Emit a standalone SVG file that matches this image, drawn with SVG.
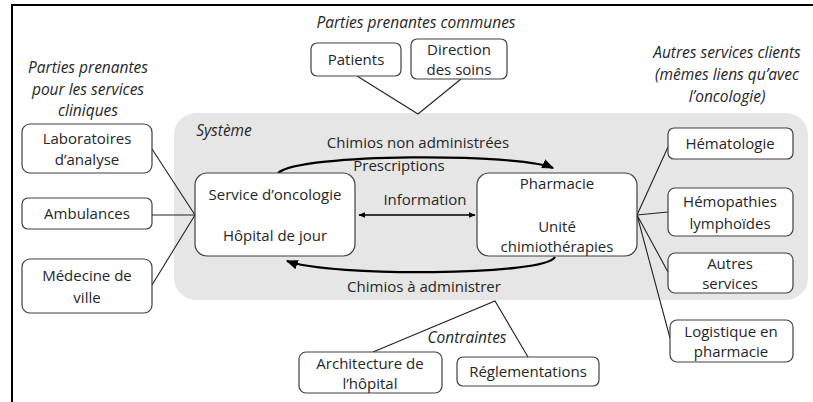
<svg xmlns="http://www.w3.org/2000/svg" width="813" height="402" viewBox="0 0 813 402">
<style>
text{font-family:"Open Sans","Liberation Sans",sans-serif;font-size:15px;fill:#262626;text-anchor:middle}
.it{font-style:italic;font-size:15.5px}
.box{fill:#fff;stroke:#404040;stroke-width:1.2}
.ln{fill:none;stroke:#222;stroke-width:1.1}
.ar{fill:none;stroke:#000;stroke-width:2.2}
</style>
<defs>
<marker id="ah2" viewBox="0 0 10 10" refX="9" refY="5" markerWidth="7" markerHeight="7" orient="auto-start-reverse" markerUnits="userSpaceOnUse"><path d="M0,1 L10,5 L0,9 z" fill="#000"/></marker>
<marker id="ah3" viewBox="0 0 10 10" refX="9" refY="5" markerWidth="12" markerHeight="12" orient="auto-start-reverse" markerUnits="userSpaceOnUse"><path d="M0,1 L10,5 L0,9 z" fill="#000"/></marker>
</defs>
<rect width="813" height="402" fill="#fff"/>
<path d="M12,402 V5 H813" fill="none" stroke="#000" stroke-width="2"/>
<g id="systeme">
<rect x="174" y="113" width="634" height="187" rx="22" fill="#e6e6e6"/>
<text class="it" x="224" y="136">Système</text>
</g>
<text class="it" x="416" y="28">Parties prenantes communes</text>
<text class="it" x="88" y="73">Parties prenantes</text>
<text class="it" x="88" y="95">pour les services</text>
<text class="it" x="88" y="116">cliniques</text>
<text class="it" x="727" y="58">Autres services clients</text>
<text class="it" x="727" y="80">(mêmes liens qu’avec</text>
<text class="it" x="727" y="102">l’oncologie)</text>
<g id="connectors">
<path class="ln" d="M357,76 L418,114 L461,79"/>
<path class="ln" d="M152,149 L195,215 M152,215 H195 M152,285 L195,215"/>
<path class="ln" d="M637,215 L668,147 M637,215 L668,212 M637,215 L668,272 M637,215 L670,338"/>
<path class="ln" d="M373,352 L495,301 L528,357"/>
<path class="ar" d="M278,173 C300,153 520,153 553,168" marker-end="url(#ah3)"/>
<path d="M359,215 H475" stroke="#000" stroke-width="1.6" fill="none" marker-start="url(#ah2)" marker-end="url(#ah2)"/>
<path class="ar" d="M555,257 C545,276 330,277 287,261" marker-end="url(#ah3)"/>
<text x="418" y="148">Chimios non administrées</text>
<text x="399" y="171">Prescriptions</text>
<text x="425" y="205">Information</text>
<text x="424" y="292">Chimios à administrer</text>
<text class="it" x="467" y="343">Contraintes</text>
</g>
<g id="oncologie">
<rect class="box" x="195" y="173" width="160" height="83" rx="12"/>
<text x="275" y="200">Service d’oncologie</text>
<text x="275" y="241">Hôpital de jour</text>
</g>
<g id="pharmacie">
<rect class="box" x="477" y="173" width="160" height="83" rx="12"/>
<text x="557" y="189">Pharmacie</text>
<text x="557" y="232">Unité</text>
<text x="557" y="252">chimiothérapies</text>
</g>
<g id="patients">
<rect class="box" x="311" y="43" width="90" height="33" rx="6"/>
<text x="356" y="65">Patients</text>
</g>
<g id="direction">
<rect class="box" x="411" y="39" width="96" height="40" rx="6"/>
<text x="459" y="55">Direction</text>
<text x="459" y="75">des soins</text>
</g>
<g id="laboratoires">
<rect class="box" x="22" y="124" width="130" height="49" rx="8"/>
<text x="87" y="144">Laboratoires</text>
<text x="87" y="165">d’analyse</text>
</g>
<g id="ambulances">
<rect class="box" x="22" y="198" width="130" height="31" rx="6"/>
<text x="87" y="219">Ambulances</text>
</g>
<g id="medecine">
<rect class="box" x="22" y="259" width="130" height="54" rx="8"/>
<text x="87" y="281">Médecine de</text>
<text x="87" y="303">ville</text>
</g>
<g id="hematologie">
<rect class="box" x="668" y="128" width="125" height="31" rx="6"/>
<text x="730" y="149">Hématologie</text>
</g>
<g id="hemopathies">
<rect class="box" x="668" y="188" width="125" height="48" rx="7"/>
<text x="730" y="207">Hémopathies</text>
<text x="730" y="229">lymphoïdes</text>
</g>
<g id="autres">
<rect class="box" x="668" y="253" width="125" height="40" rx="7"/>
<text x="730" y="269">Autres</text>
<text x="730" y="289">services</text>
</g>
<g id="logistique">
<rect class="box" x="670" y="320" width="123" height="42" rx="7"/>
<text x="731" y="337">Logistique en</text>
<text x="731" y="357">pharmacie</text>
</g>
<g id="architecture">
<rect class="box" x="299" y="352" width="143" height="41" rx="7"/>
<text x="370" y="369">Architecture de</text>
<text x="370" y="389">l’hôpital</text>
</g>
<g id="reglementations">
<rect class="box" x="457" y="357" width="142" height="29" rx="6"/>
<text x="528" y="377">Réglementations</text>
</g>
</svg>
